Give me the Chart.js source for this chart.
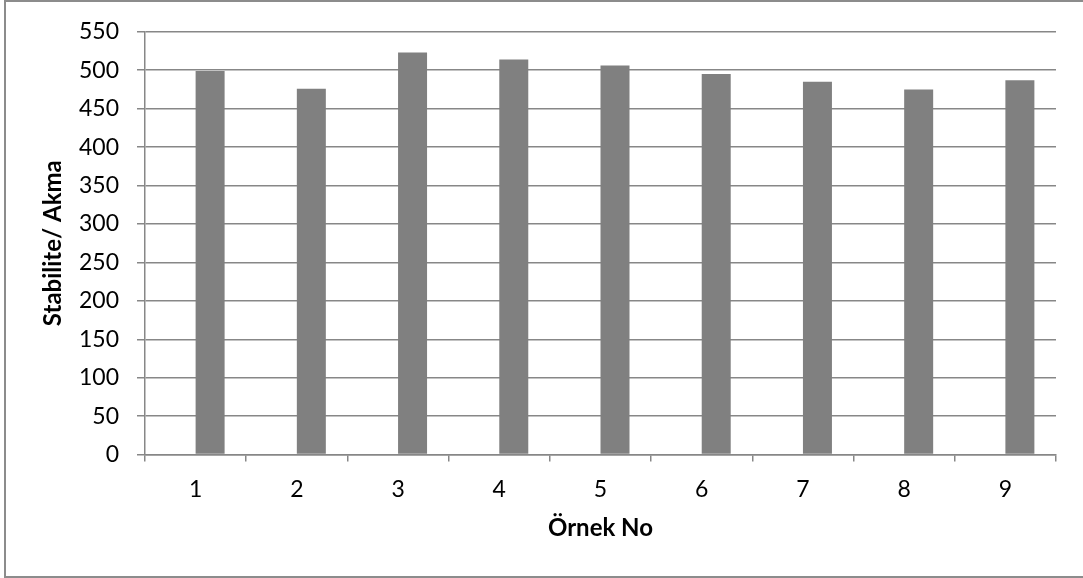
<!DOCTYPE html>
<html>
<head>
<meta charset="utf-8">
<script src="https://cdn.jsdelivr.net/npm/chart.js@4.4.1/dist/chart.umd.min.js"></script>
<style>
  html, body { margin: 0; padding: 0; background: #ffffff; }
  #wrap { width: 1083px; height: 578px; position: relative; }
</style>
</head>
<body>
<div id="wrap"><canvas id="c" width="1083" height="578"></canvas></div>
<script>
// Sample numbers on the x axis
const categories = ['1', '2', '3', '4', '5', '6', '7', '8', '9'];
// Stability / flow ratio per sample
const stabiliteAkma = [499, 476, 523, 514, 506, 495, 485, 475, 487];
// Empty companion series (keeps the bars right of each category centre)
const emptySeries = [null, null, null, null, null, null, null, null, null];
const yTicks = [0, 50, 100, 150, 200, 250, 300, 350, 400, 450, 500, 550];

const GRID = '#878787';
const FONT = 'Lato, "Open Sans", sans-serif';

// White background and the outer frame line
const framePlugin = {
  id: 'frame',
  beforeDraw(chart) {
    const ctx = chart.ctx;
    ctx.save();
    ctx.fillStyle = '#ffffff';
    ctx.fillRect(0, 0, chart.width, chart.height);
    ctx.strokeStyle = '#8c8c8c';
    ctx.lineWidth = 2;
    ctx.strokeRect(5, 1, chart.width + 20, 576);
    ctx.restore();
  }
};

new Chart(document.getElementById('c'), {
  type: 'bar',
  data: {
    labels: categories,
    datasets: [
      { label: 'bos', data: emptySeries, backgroundColor: '#808080' },
      { label: 'Stabilite/ Akma', data: stabiliteAkma, backgroundColor: '#808080', borderWidth: 0 }
    ]
  },
  options: {
    responsive: false,
    animation: false,
    events: [],
    layout: { padding: { left: 0, right: 27, top: 30, bottom: 35 } },
    plugins: { legend: { display: false }, tooltip: { enabled: false } },
    datasets: { bar: { categoryPercentage: 0.573, barPercentage: 1.0 } },
    scales: {
      x: {
        grid: { display: true, drawOnChartArea: false, drawTicks: true, tickLength: 7,
                color: GRID, lineWidth: 1.5, offset: true },
        border: { display: true, color: GRID, width: 1.5 },
        ticks: { color: '#000000', font: { family: FONT, size: 23 }, padding: 14 },
        title: { display: true, text: 'Örnek No', color: '#000000',
                 font: { family: FONT, size: 24, weight: 'bold' }, padding: { top: -3, bottom: 0 } }
      },
      y: {
        min: 0, max: 550,
        afterFit(scale) { scale.width = 145; },
        afterBuildTicks(scale) { scale.ticks = yTicks.map(v => ({ value: v })); },
        grid: { display: true, drawTicks: true, tickLength: 8, color: GRID, lineWidth: 1.5 },
        border: { display: true, color: GRID, width: 1.5 },
        ticks: { color: '#000000', font: { family: FONT, size: 23 }, padding: 18 },
        title: { display: true, text: 'Stabilite/ Akma', color: '#000000',
                 font: { family: FONT, size: 24, weight: 'bold' }, padding: { top: 39, bottom: 0 } }
      }
    }
  },
  plugins: [framePlugin]
});
</script>
</body>
</html>
